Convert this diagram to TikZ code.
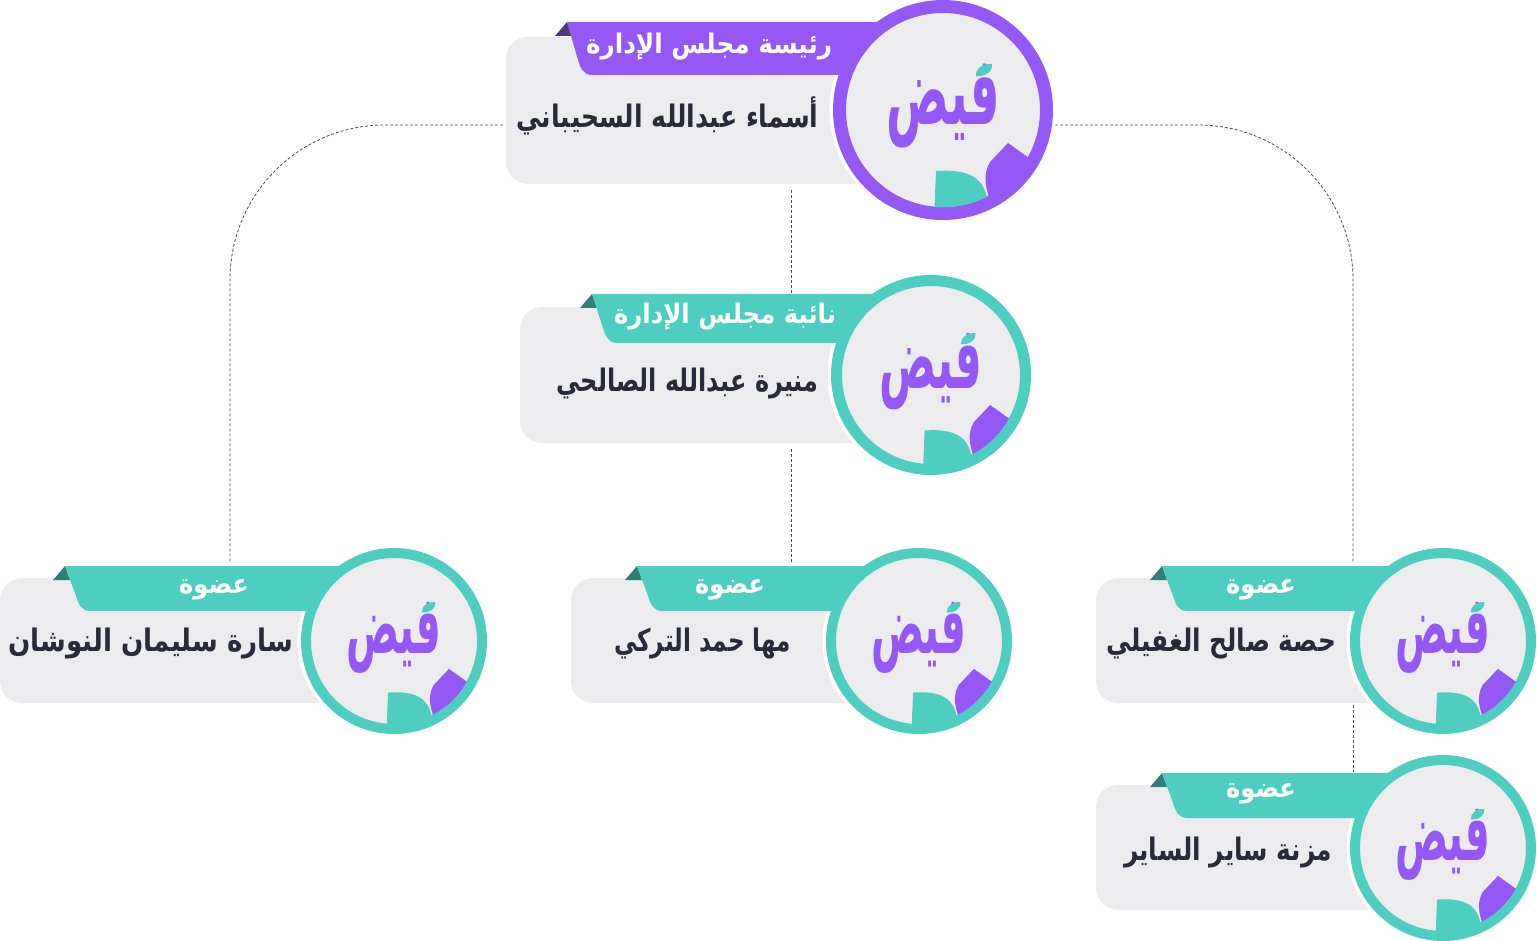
\documentclass[tikz,border=0pt]{standalone}
\usepackage{graphicx}
\usepackage{fontspec}
\TeXXeTstate=1
\newfontfamily\arabicfont[Script=Arabic]{DejaVu Sans}
\definecolor{cardgrey}{HTML}{ECECEE}
\definecolor{brandpurple}{HTML}{9558F5}
\definecolor{brandteal}{HTML}{4ECDC1}
\definecolor{darkpurple}{HTML}{4B3B7C}
\definecolor{darkteal}{HTML}{2F7F74}
\definecolor{inkdark}{HTML}{2B2A3A}
\newcommand\fitw[2]{\resizebox{#1pt}{\height}{#2}}
\tikzset{
  x=1pt,y=-1pt,
  link/.style={draw=black!70,line width=0.8pt,dash pattern=on 3pt off 2pt},
  cardbox/.style={rectangle,fill=cardgrey,rounded corners=22pt,inner sep=0pt,outer sep=0pt,anchor=north west},
  ringbox/.style={circle,fill=cardgrey,inner sep=0pt,outer sep=0pt},
  ribbontext/.style={text=white,font=\arabicfont\bfseries\fontsize{27}{30}\selectfont,inner sep=0pt},
  nametext/.style={text=inkdark,font=\arabicfont\bfseries\fontsize{31}{34}\selectfont,inner sep=0pt},
  logotext/.style={text=brandpurple,font=\arabicfont\bfseries\fontsize{60}{70}\selectfont,inner sep=0pt},
}
\newcommand\cardgeom[6]{\def\cL{#1}\def\cT{#2}\def\cB{#3}\def\rL{#4}\def\rT{#5}\def\rB{#6}}
\newcommand\cardunit[7]{%
  \pgfmathsetmacro\cw{#4-\cL}\pgfmathsetmacro\ch{\cB-\cT}%
  \node[cardbox,minimum width=\cw pt,minimum height=\ch pt] (#1-card) at (\cL,\cT) {};
  \fill[white] (#4,#5) circle[radius=#6+3.5];
  \fill[#3] (\rL,\rT) -- (\rL-12,\rT+14) -- (\rL+5,\rT+14) -- cycle;
  \fill[#2] (\rL,\rT) -- (#4,\rT) -- (#4,\rB) -- (\rL+25,\rB)
     .. controls (\rL+16,\rB) and (\rL+13,\rB-8) .. (\rL+11,\rB-15) -- cycle;
  \pgfmathsetmacro\rs{2*#6-#7}%
  \node[ringbox,draw=#2,line width=#7 pt,minimum size=\rs pt] (#1-ring) at (#4,#5) {};
  \begin{scope}
    \clip (#4,#5) circle[radius=#6-#7+0.3];
    \begin{scope}[shift={(#4,#5)},scale=#6/110]
      \fill[brandteal] (-7,61) .. controls (12,60) and (38,60) .. (44,87)
        -- (50,110) -- (-9,110) -- cycle;
      \fill[brandpurple] (65,33) -- (86,48) -- (100,120) -- (47,90)
        .. controls (42,76) and (40,64) .. (47,52) -- cycle;
    \end{scope}
  \end{scope}
}
\newcommand\logomark[4]{%
  \begin{scope}[shift={(#2,#3)},scale=#4/110]
    \pgfmathsetmacro\lw{113*#4/110}\pgfmathsetmacro\lh{84*#4/110}%
    \node[logotext] (#1-logo) at (0,-4) {\resizebox*{\lw pt}{\lh pt}{\beginR فيض\endR}};
    \fill[brandteal] (33,-34) .. controls (32,-41) and (40,-47) .. (49,-46)
      .. controls (50,-39) and (43,-33) .. (33,-34) -- cycle;
  \end{scope}
}
\begin{document}
\begin{tikzpicture}
\useasboundingbox (0,0) rectangle (1537,941);
\coordinate (presL) at (503,125);
\coordinate (presR) at (1055,125);
\coordinate (presB) at (791,190);
\coordinate (viceT) at (791,293);
\coordinate (viceB) at (791,449);
\coordinate (mahaT) at (791,563);
\coordinate (saraT) at (230,563);
\coordinate (hessaT) at (1353,563);
\coordinate (hessaB) at (1353,705);
\coordinate (moznaT) at (1353,772);
\draw[link,rounded corners=155pt] (presL) -| (saraT);
\draw[link,rounded corners=155pt] (presR) -| (hessaT);
\draw[link] (presB) -- (viceT);
\draw[link] (viceB) -- (mahaT);
\draw[link] (hessaB) -- (moznaT);

\cardgeom{506}{37}{184}{567}{22}{75}
\cardunit{pres}{brandpurple}{darkpurple}{943}{110}{110}{13}
\logomark{pres}{943}{110}{110}
\node[ribbontext] (pres-role) at (709,47) {\fitw{246}{\beginR رئيسة مجلس الإدارة\endR}};
\node[nametext] (pres-name) at (667.5,116) {\fitw{302}{\beginR أسماء عبدالله السحيباني\endR}};

\cardgeom{520}{307}{443}{592}{294}{343}
\cardunit{vice}{brandteal}{darkteal}{931}{375}{100}{11}
\logomark{vice}{931}{375}{100}
\node[ribbontext] (vice-role) at (725,317) {\fitw{222}{\beginR نائبة مجلس الإدارة\endR}};
\node[nametext] (vice-name) at (687.5,384) {\fitw{262}{\beginR منيرة عبدالله الصالحي\endR}};

\cardgeom{0}{578}{703}{65}{566}{611}
\cardunit{sara}{brandteal}{darkteal}{394}{641}{93}{10}
\logomark{sara}{394}{641}{93}
\node[ribbontext] (sara-role) at (214,590) {\fitw{70}{\beginR عضوة\endR}};
\node[nametext] (sara-name) at (151,644) {\fitw{285}{\beginR سارة سليمان النوشان\endR}};

\cardgeom{571}{578}{703}{637}{566}{611}
\cardunit{maha}{brandteal}{darkteal}{919}{641}{93}{10}
\logomark{maha}{919}{641}{93}
\node[ribbontext] (maha-role) at (730,590) {\fitw{70}{\beginR عضوة\endR}};
\node[nametext] (maha-name) at (702.5,644) {\fitw{177}{\beginR مها حمد التركي\endR}};

\cardgeom{1096}{578}{703}{1162}{566}{611}
\cardunit{hessa}{brandteal}{darkteal}{1443}{641}{93}{10}
\logomark{hessa}{1443}{641}{93}
\node[ribbontext] (hessa-role) at (1261,590) {\fitw{70}{\beginR عضوة\endR}};
\node[nametext] (hessa-name) at (1221,644) {\fitw{230}{\beginR حصة صالح الغفيلي\endR}};

\cardgeom{1096}{785}{910}{1162}{773}{818}
\cardunit{mozna}{brandteal}{darkteal}{1443}{848}{93}{10}
\logomark{mozna}{1443}{848}{93}
\node[ribbontext] (mozna-role) at (1261,794) {\fitw{70}{\beginR عضوة\endR}};
\node[nametext] (mozna-name) at (1228,853) {\fitw{208}{\beginR مزنة ساير الساير\endR}};
\end{tikzpicture}
\end{document}
